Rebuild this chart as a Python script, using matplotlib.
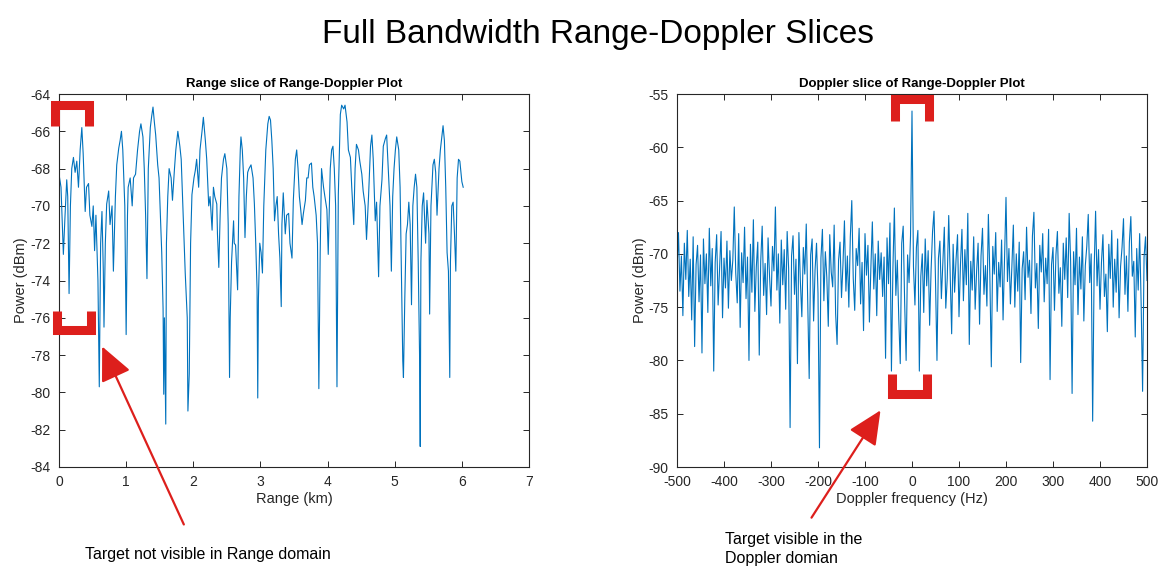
import numpy as np
import matplotlib
matplotlib.use("Agg")
import matplotlib.pyplot as plt
from matplotlib.lines import Line2D
from matplotlib.patches import FancyArrowPatch

plt.rcParams['font.family'] = ['Liberation Sans', 'DejaVu Sans']
plt.rcParams['axes.unicode_minus'] = False

# --- range slice (km, dBm) ---
range_km = [
    0.00, 0.03, 0.065, 0.09, 0.115, 0.13, 0.15, 0.17, 0.19, 0.215, 0.24, 0.265, 0.29, 0.315, 0.34, 0.36,
    0.39, 0.41, 0.44, 0.46, 0.49, 0.51, 0.53, 0.55, 0.58, 0.60, 0.62, 0.64, 0.66, 0.67, 0.69, 0.71,
    0.74, 0.76, 0.79, 0.81, 0.84, 0.86, 0.89, 0.91, 0.93, 0.95, 0.98, 1.00, 1.02, 1.03, 1.06, 1.09,
    1.11, 1.14, 1.17, 1.20, 1.22, 1.25, 1.27, 1.29, 1.31, 1.33, 1.36, 1.38, 1.40, 1.42, 1.44, 1.47,
    1.49, 1.52, 1.53, 1.55, 1.56, 1.57, 1.59, 1.60, 1.62, 1.64, 1.67, 1.69, 1.72, 1.74, 1.77, 1.80,
    1.82, 1.84, 1.86, 1.88, 1.91, 1.92, 1.94, 1.96, 1.98, 2.01,
    2.03, 2.05, 2.08, 2.10, 2.13, 2.15, 2.18, 2.20, 2.23, 2.25, 2.28, 2.30, 2.32, 2.35, 2.36, 2.38,
    2.40, 2.42, 2.45, 2.47, 2.50, 2.52, 2.54, 2.55, 2.57, 2.60, 2.61, 2.63, 2.66, 2.68, 2.70, 2.71,
    2.73, 2.75, 2.77, 2.79, 2.81, 2.83, 2.86, 2.89, 2.91, 2.93, 2.95, 2.96, 2.97, 2.99, 3.01, 3.03,
    3.05, 3.08, 3.11, 3.13, 3.15, 3.17, 3.19, 3.21, 3.23, 3.25, 3.27, 3.29, 3.31, 3.32, 3.34, 3.37,
    3.39, 3.42, 3.44, 3.47, 3.49, 3.52, 3.54, 3.56, 3.58, 3.60, 3.62, 3.64, 3.67, 3.69, 3.71, 3.73,
    3.76, 3.78, 3.80, 3.83, 3.85, 3.87, 3.89, 3.91, 3.94, 3.96, 3.99, 4.01, 4.04, 4.06, 4.08, 4.10,
    4.12, 4.14, 4.16, 4.19, 4.21, 4.24, 4.26, 4.29, 4.31, 4.34, 4.36, 4.39, 4.41, 4.43, 4.46, 4.48,
    4.51, 4.53, 4.56, 4.58, 4.61, 4.64, 4.66, 4.68, 4.71, 4.73, 4.76, 4.78, 4.81, 4.83, 4.86, 4.88,
    4.91, 4.93, 4.95, 4.97, 4.99, 5.01, 5.03, 5.06, 5.08, 5.10, 5.12, 5.13, 5.15, 5.17, 5.19, 5.21,
    5.23, 5.25, 5.27, 5.29, 5.31, 5.33, 5.35, 5.37, 5.38, 5.39, 5.41, 5.43, 5.46, 5.48, 5.51, 5.52,
    5.54, 5.57, 5.59, 5.61, 5.63, 5.66, 5.68, 5.71, 5.72, 5.74, 5.76, 5.78, 5.80, 5.82, 5.83, 5.85,
    5.87, 5.89, 5.91, 5.93, 5.95, 5.97, 6.00, 6.02,
]
range_dbm = [
    -68.3, -69.0, -72.6, -70.5, -68.6, -69.5, -74.7, -70.0, -68.0, -67.4, -68.2, -67.6, -69.0, -67.0, -65.8, -67.2,
    -70.3, -69.0, -68.8, -70.5, -71.1, -70.0, -72.4, -70.5, -74.0, -79.7, -72.0, -70.3, -73.5, -76.5, -72.0, -69.9,
    -69.2, -71.0, -70.0, -73.5, -69.5, -67.8, -66.9, -66.5, -66.0, -67.0, -70.0, -76.9, -70.5, -69.0, -68.5, -70.0,
    -68.5, -68.3, -67.0, -66.0, -65.6, -66.3, -68.0, -70.5, -73.9, -68.0, -65.8, -65.2, -64.7, -65.5, -66.2, -67.8,
    -68.5, -71.5, -72.5, -75.5, -80.1, -76.0, -81.7, -72.0, -69.5, -68.0, -68.5, -69.7, -68.0, -67.0, -66.0, -66.8,
    -67.5, -69.5, -71.5, -73.6, -76.0, -81.0, -79.0, -72.0, -69.4, -68.5,
    -68.1, -67.5, -69.0, -67.0, -66.0, -65.25, -66.5, -67.5, -70.0, -69.5, -71.3, -69.0, -69.5, -69.9, -71.5, -73.3,
    -70.5, -68.5, -67.5, -67.2, -68.0, -71.0, -79.2, -76.0, -73.0, -70.8, -72.0, -72.1, -74.5, -69.5, -67.0, -66.3,
    -67.0, -68.5, -71.7, -69.5, -68.2, -68.0, -67.8, -68.5, -69.9, -72.0, -74.5, -80.3, -75.0, -72.0, -72.5, -73.6,
    -70.0, -67.0, -65.6, -65.2, -65.4, -66.5, -68.0, -70.8, -70.0, -69.5, -71.5, -72.8, -75.4, -71.0, -69.3, -71.5,
    -70.5, -70.4, -72.0, -72.8, -69.7, -67.5, -67.0, -68.0, -69.5, -70.2, -71.0, -70.4, -69.7, -68.5, -68.5, -67.8,
    -67.7, -69.0, -69.5, -70.5, -72.0, -79.8, -72.5, -68.0, -69.0, -69.5, -70.2, -72.6, -68.0, -67.0, -66.8, -68.0,
    -70.0, -79.7, -69.4, -65.1, -64.6, -64.8, -64.6, -65.5, -67.0, -67.4, -69.0, -71.0, -68.0, -66.7, -67.0, -67.6,
    -68.3, -69.2, -70.0, -71.8, -69.5, -66.8, -66.2, -67.5, -70.8, -69.8, -73.8, -70.0, -68.6, -66.8, -66.4, -66.2,
    -68.5, -70.0, -73.5, -69.5, -68.0, -67.0, -66.3, -67.0, -69.0, -73.5, -78.3, -79.2, -75.0, -71.5, -71.0, -69.8,
    -71.0, -75.3, -70.0, -69.0, -68.3, -69.0, -73.0, -78.0, -82.9, -73.0, -70.0, -69.3, -72.0, -69.7, -71.5, -75.8,
    -70.0, -67.8, -67.5, -68.2, -70.5, -68.0, -67.0, -66.0, -65.7, -66.5, -69.0, -72.5, -73.5, -79.2, -73.0, -70.0,
    -69.8, -71.5, -73.5, -68.5, -67.5, -67.6, -68.7, -69.0,
]

# --- Doppler slice (dBm), 321 bins from -500 Hz to 500 Hz ---
doppler_dbm = [
    -71.5, -68.0, -73.5, -70.2, -75.8, -69.0, -72.4, -67.8, -74.0, -70.5, -76.2, -68.4, -78.7, -71.0, -69.2, -74.5, -70.1, -79.3, -68.6, -72.8,
    -70.0, -75.5, -67.6, -73.0, -69.5, -81.0, -70.8, -68.2, -74.8, -71.3, -67.9, -76.0, -70.4, -73.2, -68.8, -75.1, -69.7, -72.5, -70.6, -65.6,
    -71.8, -74.6, -68.1, -76.9, -69.9, -72.7, -67.5, -74.2, -70.3, -80.0, -69.1, -73.6, -66.8, -75.4, -71.2, -68.9, -79.5, -70.7, -67.4, -73.9,
    -70.9, -75.7, -68.5, -72.1, -74.9, -69.3, -71.6, -65.6, -73.4, -70.0, -76.5, -68.7, -72.9, -69.6, -75.2, -67.9, -71.4, -86.3, -70.2, -68.3,
    -73.8, -70.5, -80.3, -68.0, -72.6, -75.9, -69.4, -71.9, -67.2, -74.3, -81.7, -70.1, -68.6, -76.3, -71.5, -69.0, -73.7, -88.2, -70.4, -67.7,
    -74.4, -69.8, -72.2, -76.8, -68.2, -71.7, -73.1, -67.3, -75.6, -78.5, -70.6, -68.9, -74.1, -71.0, -66.9, -73.5, -70.2, -75.0, -68.4, -65.0,
    -72.3, -75.3, -69.5, -71.1, -67.6, -74.7, -70.8, -77.2, -68.1, -72.0, -69.2, -76.4, -71.3, -67.0, -73.3, -70.0, -75.8, -68.8, -72.4, -69.9,
    -74.0, -70.3, -79.8, -68.5, -72.8, -67.1, -81.0, -71.4, -65.7, -73.9, -70.6, -76.1, -80.3, -69.0, -67.4, -74.6, -80.0, -70.1, -72.7, -68.3,
    -56.6, -71.2, -74.8, -69.4, -67.8, -81.0, -72.1, -70.0, -75.5, -68.6, -73.0, -69.7, -76.7, -71.5, -67.9, -66.0, -72.5, -80.0, -70.4, -68.8,
    -74.2, -70.9, -67.5, -75.1, -72.3, -66.4, -71.8, -77.5, -69.1, -73.6, -70.5, -68.2, -75.9, -71.0, -67.7, -74.4, -69.6, -72.9, -66.2, -78.5,
    -70.7, -73.4, -68.4, -75.2, -71.6, -69.0, -76.6, -70.2, -67.6, -73.8, -71.1, -74.9, -66.3, -72.0, -80.6, -69.3, -71.9, -68.0, -75.4, -70.8,
    -73.1, -68.7, -76.2, -70.3, -64.7, -72.6, -69.5, -74.7, -71.2, -67.3, -75.0, -70.0, -73.5, -68.9, -80.2, -71.4, -69.8, -74.3, -67.5, -72.2,
    -70.6, -75.6, -68.3, -66.1, -73.2, -70.9, -77.0, -69.2, -71.7, -68.1, -74.5, -70.4, -72.8, -67.7, -81.8, -71.0, -69.4, -75.3, -70.1, -67.9,
    -73.7, -71.3, -76.8, -69.0, -72.4, -68.5, -74.1, -66.2, -70.7, -83.1, -69.8, -72.9, -67.6, -75.7, -70.3, -73.3, -68.4, -76.3, -71.1, -69.3,
    -66.3, -72.7, -70.0, -85.7, -71.6, -66.0, -73.0, -69.6, -75.2, -70.8, -68.2, -74.0, -71.9, -77.3, -69.1, -72.3, -67.8, -75.0, -70.5, -73.6,
    -68.6, -76.0, -71.2, -69.4, -66.7, -73.8, -70.2, -75.4, -68.9, -66.5, -72.1, -70.7, -77.8, -69.5, -73.4, -68.1, -74.6, -82.9, -70.3, -68.4,
    -72.5,
]
doppler_hz = np.linspace(-500, 500, len(doppler_dbm))

LINE_COLOR = '#0072BD'
RED = '#DD1F1C'
AX_COLOR = '#262626'
W, H = 1162, 571

fig = plt.figure(figsize=(W / 100, H / 100), dpi=100)
fig.patch.set_facecolor('white')


def px(x, y):
    # top-left pixel -> figure fraction
    return x / W, 1 - y / H


def style_axes(ax):
    for s in ax.spines.values():
        s.set_color(AX_COLOR)
        s.set_linewidth(0.8)
    ax.tick_params(direction='in', top=True, right=True, length=4, width=0.7,
                   colors=AX_COLOR, labelsize=10, pad=6)


ax1 = fig.add_axes([59 / W, 1 - 467 / H, 470 / W, 373 / H])
ax1.plot(range_km, range_dbm, color=LINE_COLOR, linewidth=0.8)
ax1.set_xlim(0, 7)
ax1.set_ylim(-84, -64)
ax1.set_xticks(range(0, 8))
ax1.set_yticks(range(-84, -63, 2))
ax1.set_title('Range slice of Range-Doppler Plot', fontsize=9.5, fontweight='bold', pad=5)
ax1.set_xlabel('Range (km)', fontsize=10.5, color=AX_COLOR, labelpad=2)
ax1.set_ylabel('Power (dBm)', fontsize=10.5, color=AX_COLOR, labelpad=2)
style_axes(ax1)

ax2 = fig.add_axes([677 / W, 1 - 467 / H, 470 / W, 373 / H])
ax2.plot(doppler_hz, doppler_dbm, color=LINE_COLOR, linewidth=0.8)
ax2.set_xlim(-500, 500)
ax2.set_ylim(-90, -55)
ax2.set_xticks(range(-500, 501, 100))
ax2.set_yticks(range(-90, -54, 5))
ax2.set_title('Doppler slice of Range-Doppler Plot', fontsize=9.5, fontweight='bold', pad=5)
ax2.set_xlabel('Doppler frequency (Hz)', fontsize=10.5, color=AX_COLOR, labelpad=2)
ax2.set_ylabel('Power (dBm)', fontsize=10.5, color=AX_COLOR, labelpad=1)
style_axes(ax2)

fig.text(598 / W, 1 - 35 / H, 'Full Bandwidth Range-Doppler Slices', ha='center', va='center',
         fontsize=24)

# red highlight brackets
brackets = [
    [(55, 126), (55, 105), (89, 105), (89, 126)],
    [(57, 311), (57, 330), (91, 330), (91, 311)],
    [(895, 121), (895, 99), (929, 99), (929, 121)],
    [(892, 374), (892, 394), (927, 394), (927, 374)],
]
for pts in brackets:
    xs, ys = zip(*[px(x, y) for x, y in pts])
    fig.add_artist(Line2D(xs, ys, transform=fig.transFigure, color=RED, linewidth=6.5,
                          solid_joinstyle='miter', solid_capstyle='butt'))

# red arrows
for tail, head in [((185, 527), (101, 344)), ((810, 520), (882, 408))]:
    fig.add_artist(FancyArrowPatch(
        px(*tail), px(*head), transform=fig.transFigure, color=RED,
        arrowstyle='-|>,head_length=1.4,head_width=0.65', linewidth=1.6, mutation_scale=15))

fig.text(85 / W, 1 - 555 / H, 'Target not visible in Range domain', ha='left', va='center',
         fontsize=11.5)
fig.text(725 / W, 1 - 549 / H, 'Target visible in the\nDoppler domian', ha='left', va='center',
         fontsize=11.5, linespacing=1.35)

fig.savefig('out.png', dpi=100, facecolor='white')
